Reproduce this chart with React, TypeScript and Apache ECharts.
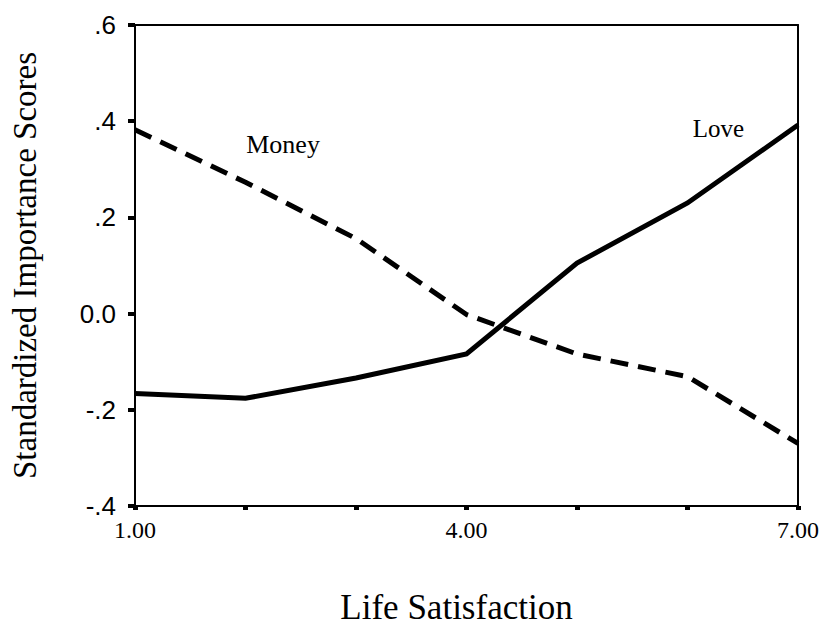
import React, { useEffect, useRef } from "react";
import * as echarts from "echarts";

const satisfaction = [1, 2, 3, 4, 5, 6, 7];
const loveScores = [-0.166, -0.176, -0.134, -0.084, 0.105, 0.23, 0.392];
const moneyScores = [0.382, 0.273, 0.156, -0.002, -0.084, -0.131, -0.27];
const xLabelled = [1, 4, 7];
const loveLabelAt = [6.28, 0.385];
const moneyLabelAt = [2.34, 0.352];

const SERIF = "'Liberation Serif', 'Times New Roman', serif";
const SANS = "'Liberation Sans', Arial, sans-serif";

function yFmt(v: number): string {
  const r = Math.round(v * 10) / 10;
  if (Math.abs(r) < 1e-9) return "0.0";
  const s = r.toFixed(1);
  return s.replace(/^(-?)0\./, "$1.");
}

export default function App() {
  const ref = useRef<HTMLDivElement>(null);
  useEffect(() => {
    if (!ref.current) return;
    const chart = echarts.init(ref.current, null, { renderer: "svg" });
    const toPairs = (ys: number[]) => satisfaction.map((x, i) => [x, ys[i]]);
    const frameLine = { show: true, onZero: false, lineStyle: { color: "#000", width: 2 } };
    chart.setOption({
      animation: false,
      backgroundColor: "#fff",
      grid: { left: 131, top: 25, right: 19, bottom: 119, containLabel: false },
      xAxis: [
        {
          type: "value",
          min: 1,
          max: 7,
          interval: 1,
          name: "Life Satisfaction",
          nameLocation: "middle",
          nameGap: 84,
          nameTextStyle: { fontFamily: SERIF, fontSize: 35, color: "#000", padding: [0, 20, 0, 0] },
          axisLine: frameLine,
          axisTick: { show: true, length: 4, lineStyle: { color: "#000", width: 5 } },
          axisLabel: {
            fontFamily: SERIF,
            fontSize: 24,
            color: "#000",
            margin: 12,
            formatter: (v: number) => (xLabelled.includes(v) ? v.toFixed(2) : ""),
          },
          splitLine: { show: false },
        },
        {
          type: "value",
          position: "top",
          min: 1,
          max: 7,
          axisLine: frameLine,
          axisTick: { show: false },
          axisLabel: { show: false },
          splitLine: { show: false },
        },
      ],
      yAxis: [
        {
          type: "value",
          min: -0.4,
          max: 0.6,
          interval: 0.2,
          name: "Standardized Importance Scores",
          nameLocation: "middle",
          nameGap: 94,
          nameRotate: 90,
          nameTextStyle: { fontFamily: SERIF, fontSize: 33, color: "#000" },
          axisLine: frameLine,
          axisTick: { show: true, length: 7, lineStyle: { color: "#000", width: 4 } },
          axisLabel: {
            fontFamily: SANS,
            fontSize: 26,
            color: "#000",
            margin: 19,
            formatter: yFmt,
          },
          splitLine: { show: false },
        },
        {
          type: "value",
          position: "right",
          min: -0.4,
          max: 0.6,
          axisLine: frameLine,
          axisTick: { show: false },
          axisLabel: { show: false },
          splitLine: { show: false },
        },
      ],
      series: [
        {
          name: "Love",
          type: "line",
          data: toPairs(loveScores),
          symbol: "none",
          lineStyle: { color: "#000", width: 5, join: "miter" },
          markPoint: {
            symbol: "circle",
            symbolSize: 0,
            label: {
              show: true,
              formatter: "Love",
              fontFamily: SERIF,
              fontSize: 25,
              color: "#000",
              position: "inside",
            },
            data: [{ coord: loveLabelAt }],
          },
        },
        {
          name: "Money",
          type: "line",
          data: toPairs(moneyScores),
          symbol: "none",
          lineStyle: { color: "#000", width: 5, type: [18, 10] },
          markPoint: {
            symbol: "circle",
            symbolSize: 0,
            label: {
              show: true,
              formatter: "Money",
              fontFamily: SERIF,
              fontSize: 26,
              color: "#000",
              position: "inside",
            },
            data: [{ coord: moneyLabelAt }],
          },
        },
      ],
    });
    return () => chart.dispose();
  }, []);
  return <div ref={ref} style={{ width: 822, height: 630, position: "absolute", left: 0, top: 0 }} />;
}
